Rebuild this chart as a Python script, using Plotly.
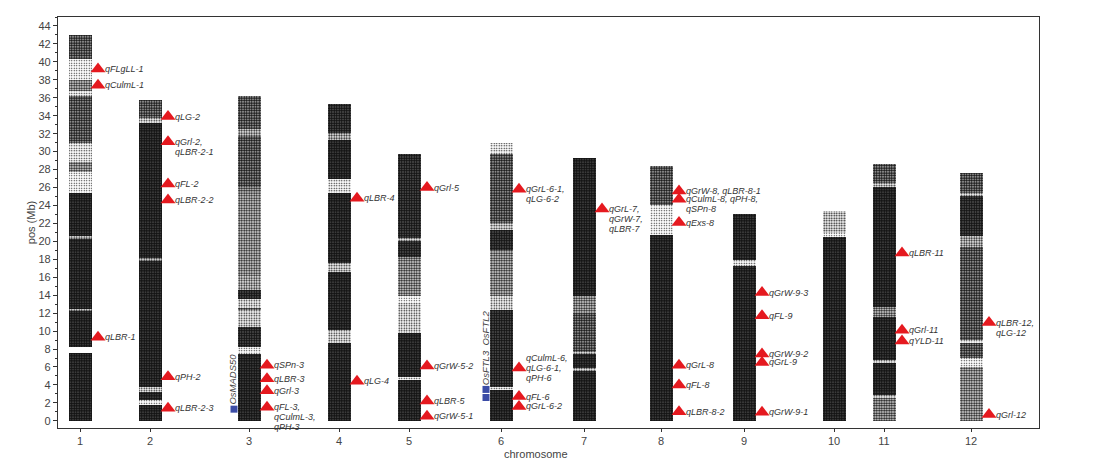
import plotly.graph_objects as go

# chromosome numbers and marker-density bands (start Mb, end Mb, relative density)
chromosomes = [1, 2, 3, 4, 5, 6, 7, 8, 9, 10, 11, 12]

chr1_bands = [(0, 7.6, 1), (8.2, 12.3, 1), (12.3, 12.5, 0.5), (12.5, 20.3, 1), (20.3, 20.6, 0.5),
              (20.6, 25.4, 1), (25.4, 27.7, 0.15), (27.7, 28.8, 0.6), (28.8, 31.0, 0.2), (31.0, 36.2, 0.9),
              (36.2, 36.8, 0.2), (36.8, 38.0, 0.6), (38.0, 40.3, 0.15), (40.3, 43.0, 0.9)]
chr2_bands = [(0, 1.8, 1), (1.8, 2.3, 0.15), (2.3, 3.2, 1), (3.2, 3.8, 0.3), (3.8, 17.8, 1), (17.8, 18.1, 0.5),
              (18.1, 33.2, 1), (33.2, 33.7, 0.3), (33.7, 35.8, 0.9)]
chr3_bands = [(0, 7.4, 1), (7.4, 8.2, 0.15), (8.2, 10.5, 0.95), (10.5, 12.3, 0.3), (12.3, 12.6, 0.8),
              (12.6, 13.6, 0.25), (13.6, 14.6, 0.95), (14.6, 16.1, 0.5), (16.1, 25.4, 0.55), (25.4, 26.1, 0.7),
              (26.1, 31.7, 0.9), (31.7, 32.5, 0.5), (32.5, 36.2, 0.9)]
chr4_bands = [(0, 8.7, 1), (8.7, 10.1, 0.3), (10.1, 16.6, 1), (16.6, 17.6, 0.4), (17.6, 25.4, 1),
              (25.4, 26.9, 0.2), (26.9, 31.3, 1), (31.3, 32.1, 0.5), (32.1, 35.3, 0.95)]
chr5_bands = [(0, 4.5, 1), (4.5, 4.9, 0.2), (4.9, 9.8, 1), (9.8, 13.1, 0.25), (13.1, 13.9, 0.1),
              (13.9, 18.3, 0.6), (18.3, 20.0, 0.95), (20.0, 20.4, 0.4), (20.4, 29.7, 0.95)]
chr6_bands = [(0, 3.4, 1), (3.4, 3.8, 0.2), (3.8, 12.4, 0.95), (12.4, 13.9, 0.25), (13.9, 19.0, 0.6),
              (19.0, 21.3, 0.95), (21.3, 22.1, 0.45), (22.1, 29.7, 0.9), (29.7, 31.0, 0.2)]
chr7_bands = [(0, 5.6, 1), (5.6, 5.9, 0.4), (5.9, 7.4, 1), (7.4, 7.7, 0.4), (7.7, 12.0, 0.9),
              (12.0, 13.9, 0.6), (13.9, 29.3, 1)]
chr8_bands = [(0, 20.7, 1), (20.7, 24.0, 0.15), (24.0, 28.4, 0.9)]
chr9_bands = [(0, 17.2, 1), (17.2, 17.9, 0.2), (17.9, 23.0, 1)]
chr10_bands = [(0, 20.5, 1), (20.5, 20.9, 0.1), (20.9, 23.4, 0.4)]
chr11_bands = [(0, 2.5, 0.7), (2.5, 2.9, 0.4), (2.9, 6.4, 1), (6.4, 6.8, 0.3), (6.8, 11.6, 1),
               (11.6, 12.7, 0.6), (12.7, 26.1, 1), (26.1, 26.5, 0.4), (26.5, 28.6, 0.9)]
chr12_bands = [(0, 6.0, 0.6), (6.0, 7.0, 0.15), (7.0, 8.7, 0.9), (8.7, 9.0, 0.2), (9.0, 19.4, 0.9),
               (19.4, 20.6, 0.5), (20.6, 25.0, 0.95), (25.0, 25.4, 0.3), (25.4, 27.6, 0.9)]

# QTLs
qtl_chrom = [1, 1, 1,
             2, 2, 2, 2, 2, 2,
             3, 3, 3, 3,
             4, 4,
             5, 5, 5, 5,
             6, 6, 6, 6,
             7,
             8, 8, 8, 8, 8, 8,
             9, 9, 9, 9, 9,
             11, 11, 11,
             12, 12]
qtl_pos = [39.2, 37.4, 9.3,
           33.9, 31.1, 26.4, 24.6, 4.9, 1.4,
           6.2, 4.7, 3.35, 1.5,
           24.8, 4.4,
           26.0, 6.1, 2.2, 0.5,
           25.8, 5.9, 2.7, 1.6,
           23.6,
           25.6, 24.7, 22.1, 6.2, 4.0, 1.0,
           14.3, 11.7, 7.45, 6.5, 0.95,
           18.7, 10.1, 8.9,
           10.95, 0.7]
qtl_label = ["qFLgLL-1", "qCulmL-1", "qLBR-1",
             "qLG-2", "qGrl-2,<br>qLBR-2-1", "qFL-2", "qLBR-2-2", "qPH-2", "qLBR-2-3",
             "qSPn-3", "qLBR-3", "qGrl-3", "qFL-3,<br>qCulmL-3,<br>qPH-3",
             "qLBR-4", "qLG-4",
             "qGrl-5", "qGrW-5-2", "qLBR-5", "qGrW-5-1",
             "qGrL-6-1,<br>qLG-6-2", "qCulmL-6,<br>qLG-6-1,<br>qPH-6", "qFL-6", "qGrL-6-2",
             "qGrL-7,<br>qGrW-7,<br>qLBR-7",
             "qGrW-8, qLBR-8-1", "qCulmL-8, qPH-8,<br>qSPn-8", "qExs-8", "qGrL-8", "qFL-8", "qLBR-8-2",
             "qGrW-9-3", "qFL-9", "qGrW-9-2", "qGrL-9", "qGrW-9-1",
             "qLBR-11", "qGrl-11", "qYLD-11",
             "qLBR-12,<br>qLG-12", "qGrl-12"]
centered_labels = ["qCulmL-6,<br>qLG-6-1,<br>qPH-6"]

# candidate genes
gene_chrom = [3, 6, 6]
gene_pos = [1.3, 3.5, 2.6]
gene_text = ["OsMADS50", "OsFTL3  OsFTL2"]
gene_text_chrom = [3, 6]
gene_text_pos = [4.6, 8.1]

# layout: horizontal pixel centre of each chromosome column (spacing is irregular in the figure)
chrom_x = [80, 150, 249, 339, 409, 501, 584, 661, 744, 834, 884, 971]
xpos = dict(zip(chromosomes, chrom_x))
all_bands = [chr1_bands, chr2_bands, chr3_bands, chr4_bands, chr5_bands, chr6_bands,
             chr7_bands, chr8_bands, chr9_bands, chr10_bands, chr11_bands, chr12_bands]

FONT = "Liberation Sans, Arial"

bx, bbase, bh, bsol = [], [], [], []
for c, bands in zip(chromosomes, all_bands):
    for s, e, d in bands:
        bx.append(xpos[c])
        bbase.append(s)
        bh.append(e - s)
        bsol.append(0.1 + 0.75 * d)

fig = go.Figure()
fig.add_trace(go.Bar(
    x=bx, y=bh, base=bbase, width=23,
    marker=dict(color="white", line=dict(width=0),
                pattern=dict(shape=".", fgcolor="#111111", bgcolor="white",
                             size=2.5, solidity=bsol, fillmode="replace")),
    hoverinfo="skip", showlegend=False,
))

tri_x = [xpos[c] + 18 for c in qtl_chrom]
fig.add_trace(go.Scatter(
    x=tri_x, y=qtl_pos, mode="markers",
    marker=dict(symbol="triangle-up", size=13, color="#e5191f", line=dict(width=0)),
    text=[l.replace("<br>", " ") for l in qtl_label], hoverinfo="text", showlegend=False,
))

fig.add_trace(go.Scatter(
    x=[xpos[c] - 15 for c in gene_chrom], y=gene_pos, mode="markers",
    marker=dict(symbol="square", size=7, color="#3b4ca6"),
    hoverinfo="skip", showlegend=False,
))

# labels: one annotation per line, tight line spacing as in the figure
for x, y, lab in zip(tri_x, qtl_pos, qtl_label):
    lines = lab.split("<br>")
    first = 1 if lab in centered_labels else 0
    for i, line in enumerate(lines):
        fig.add_annotation(
            x=x, y=y, text="<i>" + line + "</i>", showarrow=False,
            xanchor="left", yanchor="middle", xshift=5, yshift=-10 * (i - first),
            font=dict(family=FONT, size=9, color="#333333"),
        )

for c, y, t in zip(gene_text_chrom, gene_text_pos, gene_text):
    fig.add_annotation(
        x=xpos[c] - 16, y=y, text="<i>" + t + "</i>", showarrow=False, textangle=-90,
        font=dict(family=FONT, size=9.5, color="#444444"),
    )

fig.add_annotation(x=-0.036, y=0.5, xref="paper", yref="paper", text="pos (Mb)", textangle=-90,
                   showarrow=False, font=dict(family=FONT, size=11, color="#444444"))
fig.add_annotation(x=0.487, y=-0.044, xref="paper", yref="paper", text="chromosome", yanchor="top",
                   showarrow=False, font=dict(family=FONT, size=11, color="#444444"))

fig.update_layout(
    width=1104, height=469,
    margin=dict(l=58, r=65, t=17, b=41),
    paper_bgcolor="white", plot_bgcolor="white",
    barmode="overlay", bargap=0,
    font=dict(family=FONT, size=11, color="#444444"),
    xaxis=dict(range=[58, 1039], tickvals=chrom_x, ticktext=[str(c) for c in chromosomes],
               showline=True, linecolor="#333333", linewidth=1.3, mirror=True,
               ticks="outside", ticklen=3, tickcolor="#333333", showgrid=False, zeroline=False,
               automargin=False),
    yaxis=dict(range=[-0.8, 45.0], tickvals=list(range(0, 45, 2)),
               showline=True, linecolor="#333333", linewidth=1.3, mirror=True,
               ticks="outside", ticklen=4, tickcolor="#333333", showgrid=False, zeroline=False,
               minor=dict(dtick=1, tick0=0, ticks="outside", ticklen=2, tickcolor="#333333"),
               automargin=False),
)

fig.write_html("out.html", config={"displayModeBar": False},
               post_script="document.body.style.margin='0';document.body.style.overflow='hidden';")
